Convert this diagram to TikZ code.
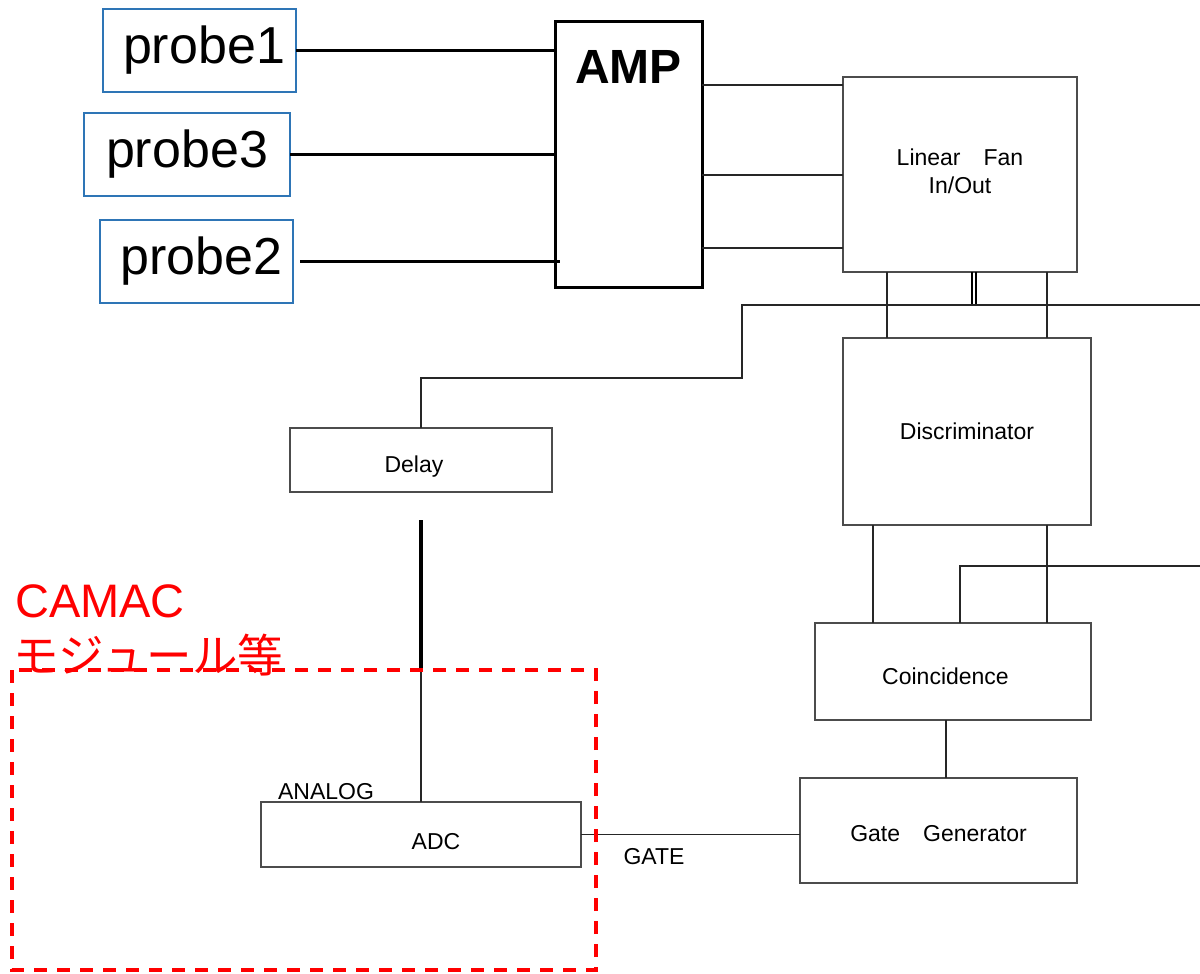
\documentclass[tikz,border=0pt]{standalone}
\usepackage{fontspec}
\setmainfont{Liberation Sans}
\newfontfamily\cjk{Noto Sans CJK JP}
\usetikzlibrary{calc}
\definecolor{probeblue}{RGB}{46,117,182}
\begin{document}
\begin{tikzpicture}[x=1pt,y=-1pt,
  box/.style={draw=black!70, line width=1.2pt, inner sep=0pt, outer sep=0pt, font=\fontsize{23}{28}\selectfont, align=center},
  probebox/.style={draw=probeblue, line width=1.8pt, inner sep=0pt, outer sep=0pt, minimum height=83pt, font=\fontsize{52}{60}\selectfont},
  wire/.style={line width=1.1pt, draw=black!85},
  boldwire/.style={line width=3.2pt, draw=black},
  lbl/.style={font=\fontsize{23}{26}\selectfont, inner sep=0pt},
  redtext/.style={text=red, anchor=base west, inner sep=0pt}
]
\fill[white] (0,0) rectangle (1200,974);
\useasboundingbox (0,0) rectangle (1200,974);

% probes
\node[probebox, minimum width=193pt] (p1) at (199.5,50.5) {\hspace*{9pt}probe1};
\node[probebox, minimum width=206pt] (p3) at (187,154.5) {probe3};
\node[probebox, minimum width=193pt] (p2) at (196.5,261.5) {\hspace*{10pt}probe2};

% AMP
\node[draw, line width=3pt, minimum width=147pt, minimum height=265pt, inner sep=0pt, outer sep=0pt,
  label={[font=\bfseries\fontsize{48}{50}\selectfont, inner sep=0pt, anchor=north, yshift=-28pt]north:AMP}] (amp) at (628.5,154.5) {};

\draw[boldwire] (p1.east) -- (p1.east -| amp.west);
\draw[boldwire] (p3.east) -- (p3.east -| amp.west);
\draw[boldwire] ($(p2.east)+(7,0)$) -- ($(p2.east -| amp.west)+(5,0)$);

% Linear Fan In/Out
\node[box, minimum width=234pt, minimum height=195pt] (lf) at (960,174.5) {Linear\hspace{1em}Fan\\In/Out\\[-22pt]\mbox{}};
\foreach \yy in {85,175,248} \draw[wire] (amp.east |- 0,\yy) -- (lf.west |- 0,\yy);

% Discriminator
\node[box, minimum width=248pt, minimum height=187pt] (disc) at (967,431.5) {Discriminator};
\foreach \xx in {887,1047} \draw[wire] (lf.south -| \xx,0) -- (disc.north -| \xx,0);

% bus
\coordinate (busR) at (1200,305);
\draw[line width=1.5pt] (lf.south -| 972,0) -- (972,305);
\draw[line width=1.5pt] (lf.south -| 976,0) -- (976,305);

% Delay
\node[box, minimum width=262pt, minimum height=64pt, text height=24.5pt, text depth=0pt] (delay) at (421,460) {Delay\hspace*{14pt}};
\draw[wire] (delay.north) |- (742,378) |- (busR);

% ADC
\node[box, minimum width=320pt, minimum height=65pt, text height=29.5pt, text depth=0pt] (adc) at (421,834.5) {\hspace*{30pt}ADC};
\coordinate (t1) at (421,520);
\coordinate (t2) at (421,668);
\draw[boldwire] (t1) -- (t2);
\draw[wire] (t2) -- (adc.north);

% Coincidence
\node[box, minimum width=276pt, minimum height=97pt, text height=26.5pt, text depth=0pt] (coin) at (953,671.5) {Coincidence\hspace*{15pt}};
\foreach \xx in {873,1047} \draw[wire] (disc.south -| \xx,0) -- (coin.north -| \xx,0);
\coordinate (cr) at (1200,566);
\draw[wire] (cr) -| (coin.north -| 960,0);

% Gate Generator
\node[box, minimum width=277pt, minimum height=105pt, text height=21.5pt, text depth=0pt] (gate) at (938.5,830.5) {Gate\hspace{1em}Generator};
\draw[wire] (coin.south -| 946,0) -- (gate.north -| 946,0);
\draw[wire] (adc.east) -- (adc.east -| gate.west);

% labels
\node[lbl] (analog) at (326,792) {ANALOG};
\node[lbl] (gatelbl) at (654,857) {GATE};

% CAMAC region
\draw[red, line width=3.6pt, dash pattern=on 13pt off 10pt] (12,670) rectangle (596,970);
\node[redtext, font=\fontsize{47}{50}\selectfont] (camac) at (15,617) {CAMAC};
\node[redtext, font=\cjk\fontsize{45.5}{48}\selectfont] (jp) at (13,672) {モジュール等};
\end{tikzpicture}
\end{document}
